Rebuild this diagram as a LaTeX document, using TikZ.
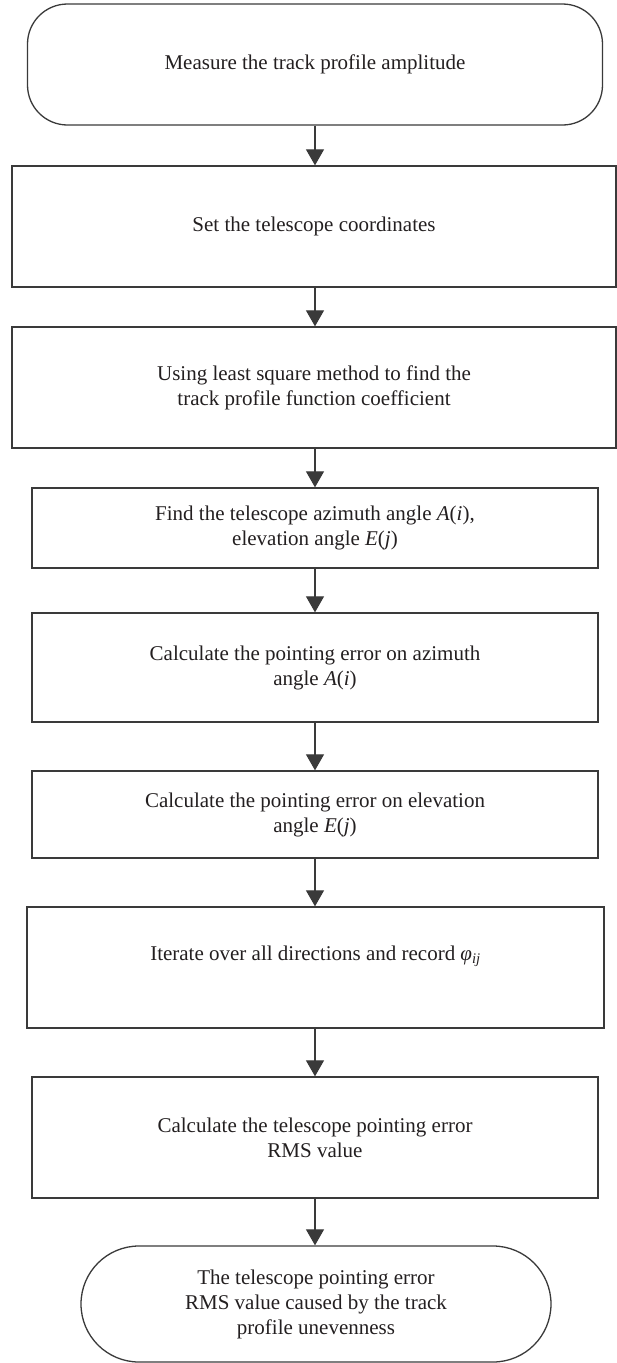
\documentclass[tikz,border=0pt]{standalone}
\usepackage{fontspec}
\setmainfont{Liberation Serif}
\usetikzlibrary{arrows.meta,shapes.misc}
\definecolor{edge}{HTML}{3A3A3A}
\definecolor{ink}{HTML}{231F20}
\tikzset{
  box/.style={draw=edge, line width=1.3pt, rectangle, align=center, text=ink,
    font=\fontsize{21}{25}\selectfont, inner sep=0pt},
  term/.style={box, rounded corners=40pt},
  stadium/.style={draw=edge, line width=1.3pt, rounded rectangle, align=center, text=ink,
    font=\fontsize{21}{25}\selectfont, inner sep=0pt},
  flow/.style={draw=edge, line width=1.1pt, -{Triangle[length=16pt,width=18pt]}}
}
\begin{document}
\begin{tikzpicture}[x=1pt,y=-1pt]
\useasboundingbox (0,0) rectangle (617,1363);
\node[term, minimum width=575pt, minimum height=121pt] (b1) at (315,64.5)
  {Measure the track profile amplitude};
\node[box, minimum width=604pt, minimum height=121pt] (b2) at (314,226.5)
  {Set the telescope coordinates};
\node[box, minimum width=604pt, minimum height=121pt] (b3) at (314,387.5)
  {Using least square method to find the\\track profile function coefficient};
\node[box, minimum width=566pt, minimum height=80pt] (b4) at (315,528)
  {Find the telescope azimuth angle \textit{A}(\textit{i}),\\elevation angle \textit{E}(\textit{j})};
\node[box, minimum width=566pt, minimum height=109pt] (b5) at (315,667.5)
  {Calculate the pointing error on azimuth\\angle \textit{A}(\textit{i})};
\node[box, minimum width=566pt, minimum height=87pt] (b6) at (315,814.5)
  {Calculate the pointing error on elevation\\angle \textit{E}(\textit{j})};
\node[draw=edge, line width=1.3pt, rectangle, text=ink, font=\fontsize{21}{25}\selectfont,
  inner sep=0pt, text height=15pt, text depth=30pt,
  minimum width=577pt, minimum height=121pt] (b7) at (315.5,967.5)
  {Iterate over all directions and record \textit{φ}\textsubscript{\textit{ij}}};
\node[box, minimum width=566pt, minimum height=121pt] (b8) at (315,1137.5)
  {Calculate the telescope pointing error\\RMS value};
\node[stadium, minimum width=470pt, minimum height=116pt] (b9) at (316,1304)
  {The telescope pointing error\\RMS value caused by the track\\profile unevenness};
\draw[flow] (b1.south -| 315,0) -- (b2.north -| 315,0);
\draw[flow] (b2.south -| 315,0) -- (b3.north -| 315,0);
\draw[flow] (b3.south -| 315,0) -- (b4.north -| 315,0);
\draw[flow] (b4.south -| 315,0) -- (b5.north -| 315,0);
\draw[flow] (b5.south -| 315,0) -- (b6.north -| 315,0);
\draw[flow] (b6.south -| 315,0) -- (b7.north -| 315,0);
\draw[flow] (b7.south -| 315,0) -- (b8.north -| 315,0);
\draw[flow] (b8.south -| 315,0) -- (b9.north -| 315,0);
\end{tikzpicture}
\end{document}
